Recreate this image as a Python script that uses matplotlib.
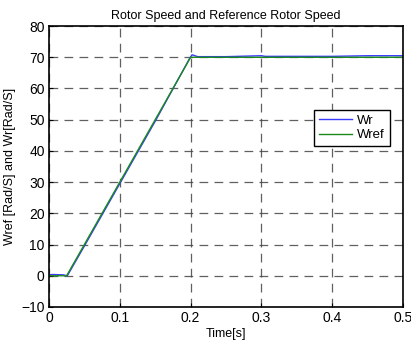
import matplotlib
matplotlib.use('Agg')
import matplotlib.pyplot as plt

# reference speed (rad/s)
t_ref = [0.0, 0.025, 0.2, 0.5]
w_ref = [0.0, 0.0, 70.0, 70.0]

t_wr = [0.0, 0.005, 0.02, 0.026, 0.05, 0.1, 0.15, 0.199, 0.202, 0.206, 0.21, 0.25, 0.3, 0.305,
        0.31, 0.4, 0.45, 0.5]
wr = [0.3, 0.4, 0.3, 0.0, 9.5, 29.5, 49.5, 69.8, 70.8, 70.5, 70.2, 70.2, 70.5, 70.3,
      70.3, 70.3, 70.5, 70.5]

plt.rcParams['font.family'] = ['Liberation Sans', 'DejaVu Sans']

fig = plt.figure(figsize=(4.11, 3.43), dpi=100)
ax = fig.add_axes([0.119, 0.105, 0.862, 0.819])

ax.plot(t_wr, wr, color='#3a3aff', lw=1.0, label='Wr')
ax.plot(t_ref, w_ref, color='#1a8a1a', lw=1.0, label='Wref')

ax.set_xlim(0, 0.5)
ax.set_ylim(-10, 80)
ax.set_xticks([0, 0.1, 0.2, 0.3, 0.4, 0.5])
ax.set_xticklabels(['0', '0.1', '0.2', '0.3', '0.4', '0.5'])
ax.set_yticks(range(-10, 81, 10))
ax.tick_params(labelsize=10, direction='in', length=3, pad=3)
ax.grid(True, color='#444444', ls=(0, (7, 5)), lw=0.9, alpha=0.85)
for s in ax.spines.values():
    s.set_linewidth(1.2)

ax.set_title('Rotor Speed and Reference Rotor Speed', fontsize=9, pad=5)
ax.set_xlabel('Time[s]', fontsize=9, labelpad=2)
ax.set_ylabel('Wref [Rad/S] and Wr[Rad/S]', fontsize=9, labelpad=4)

leg = ax.legend(loc='upper left', bbox_to_anchor=(0.749, 0.701), borderaxespad=0,
                fontsize=9.5, fancybox=False, framealpha=1, edgecolor='black',
                handlelength=2.5, borderpad=0.35, labelspacing=0.15, handletextpad=0.4)
leg.get_frame().set_linewidth(1.0)

fig.savefig('out.png', dpi=100)
